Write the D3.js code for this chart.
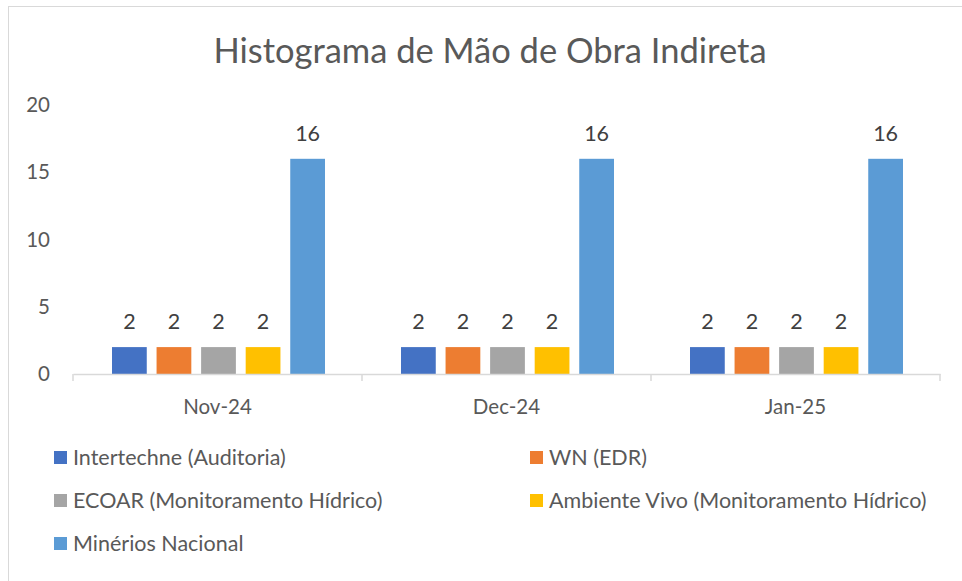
<!DOCTYPE html>
<meta charset="utf-8">
<style>
  body { margin: 0; background: #fff; }
  text { font-family: Lato, "Open Sans", sans-serif; fill: #595959; }
</style>
<body>
<svg id="chart"></svg>
<script src="https://cdn.jsdelivr.net/npm/d3@7"></script>
<script>
var months = ["Nov-24", "Dec-24", "Jan-25"];
var series = ["Intertechne (Auditoria)", "WN (EDR)", "ECOAR (Monitoramento Hídrico)",
              "Ambiente Vivo (Monitoramento Hídrico)", "Minérios Nacional"];
var colors = ["#4472C4", "#ED7D31", "#A5A5A5", "#FFC000", "#5B9BD5"];
var values = [
  [2, 2, 2],    // Intertechne
  [2, 2, 2],    // WN
  [2, 2, 2],    // ECOAR
  [2, 2, 2],    // Ambiente Vivo
  [16, 16, 16]  // Minérios Nacional
];
var yTicks = [0, 5, 10, 15, 20];

var W = 962, H = 581;
var svg = d3.select("#chart").attr("width", W).attr("height", H);

// chart area border
svg.append("rect")
    .attr("x", 8.5).attr("y", 6.5)
    .attr("width", 970).attr("height", 600)
    .attr("fill", "#fff").attr("stroke", "#d9d9d9");

svg.append("text")
    .attr("x", 490).attr("y", 63)
    .attr("text-anchor", "middle")
    .style("font-size", "34.5px")
    .text("Histograma de Mão de Obra Indireta");

var x0 = d3.scaleBand().domain(months).range([73, 940]);
var x1 = d3.scaleBand().domain(series).range([39, x0.bandwidth() - 37]).paddingInner(0.22);
var y = d3.scaleLinear().domain([0, 20]).range([374, 105]);

// y labels
svg.append("g").selectAll("text")
  .data(yTicks).enter().append("text")
    .attr("x", 50).attr("y", function(d) { return y(d); })
    .attr("dy", "0.35em")
    .attr("text-anchor", "end")
    .style("font-size", "20.5px")
    .text(function(d) { return d; });

// bars
var groups = svg.append("g").selectAll("g")
  .data(series).enter().append("g")
    .attr("fill", function(d, i) { return colors[i]; });

groups.selectAll("rect")
  .data(function(s, i) { return values[i].map(function(v, j) { return { s: s, m: months[j], v: v }; }); })
  .enter().append("rect")
    .attr("x", function(d) { return x0(d.m) + x1(d.s); })
    .attr("y", function(d) { return y(d.v); })
    .attr("width", x1.bandwidth())
    .attr("height", function(d) { return y(0) - y(d.v); });

groups.selectAll("text")
  .data(function(s, i) { return values[i].map(function(v, j) { return { s: s, m: months[j], v: v }; }); })
  .enter().append("text")
    .attr("x", function(d) { return x0(d.m) + x1(d.s) + x1.bandwidth() / 2; })
    .attr("y", function(d) { return y(d.v) - 18; })
    .attr("text-anchor", "middle")
    .style("font-size", "21.5px")
    .style("fill", "#404040")
    .text(function(d) { return d.v; });

// x axis
var xAxis = svg.append("g")
    .attr("transform", "translate(0,374)")
    .call(d3.axisBottom(x0).tickSize(0).tickPadding(25));
xAxis.select(".domain").attr("stroke", "#d9d9d9").attr("stroke-width", 1.5);
xAxis.selectAll(".tick text")
    .style("font-family", "Lato, 'Open Sans', sans-serif")
    .style("font-size", "20.5px").attr("fill", "#595959");
var edges = months.map(function(m) { return x0(m); }).concat([x0.range()[1]]);
xAxis.selectAll(".edge").data(edges).enter().append("line")
    .attr("x1", function(d) { return d; }).attr("x2", function(d) { return d; })
    .attr("y1", 0).attr("y2", 7)
    .attr("stroke", "#d9d9d9").attr("stroke-width", 1.5);

// legend
var legendPos = [[54, 457], [530, 457], [54, 500], [530, 500], [54, 543]];
var legend = svg.append("g").selectAll("g")
  .data(series).enter().append("g")
    .attr("transform", function(d, i) { return "translate(" + legendPos[i][0] + "," + legendPos[i][1] + ")"; });
legend.append("rect")
    .attr("x", 0).attr("y", -6).attr("width", 13).attr("height", 13)
    .attr("fill", function(d, i) { return colors[i]; });
legend.append("text")
    .attr("x", 19).attr("dy", "0.35em")
    .style("font-size", "21.5px")
    .text(function(d) { return d; });
</script>
</body>
